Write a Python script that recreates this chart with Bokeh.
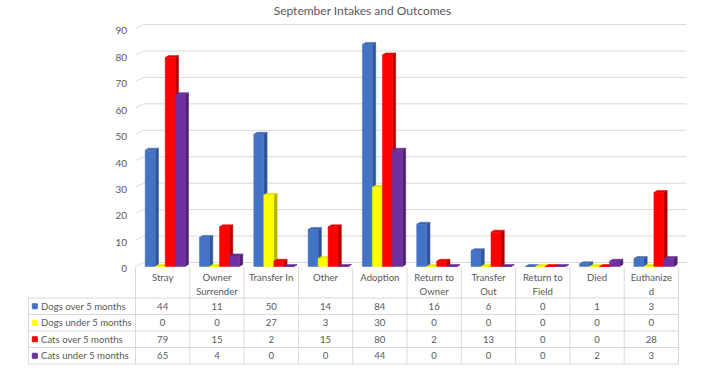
from bokeh.plotting import figure
from bokeh.models import Range1d
from bokeh.core.properties import value
from bokeh.embed import file_html
from bokeh.resources import INLINE

# ---------------- data ----------------
title_text = "September Intakes and Outcomes"
categories = ["Stray", "Owner\nSurrender", "Transfer In", "Other", "Adoption",
              "Return to\nOwner", "Transfer\nOut", "Return to\nField", "Died", "Euthanize\nd"]
series_names = ["Dogs over 5 months", "Dogs under 5 months",
                "Cats over 5 months", "Cats under 5 months"]
dogs_over_5 = [44, 11, 50, 14, 84, 16, 6, 0, 1, 3]
dogs_under_5 = [0, 0, 27, 3, 30, 0, 0, 0, 0, 0]
cats_over_5 = [79, 15, 2, 15, 80, 2, 13, 0, 0, 28]
cats_under_5 = [65, 4, 0, 0, 44, 0, 0, 0, 2, 3]
y_ticks = [0, 10, 20, 30, 40, 50, 60, 70, 80, 90]

series_values = [dogs_over_5, dogs_under_5, cats_over_5, cats_under_5]
front_colors = ["#4472C4", "#FFFF00", "#FF0000", "#7030A0"]
top_colors = ["#3D66B0", "#E6E600", "#E00000", "#642B8F"]
side_colors = ["#2F5597", "#B3B300", "#B00000", "#4E2170"]

TEXT = "#595959"
GRID = "#D9D9D9"
FONT = value("Lato")
FS = "9.6px"

# ---------------- geometry (pixels) ----------------
W, H = 710, 375
PX = 54.3        # pixels per category column
PY = 2.644       # pixels per value unit
OX = 135.0       # canvas x of first column's left edge
OY = 266.0       # canvas y of value 0 (front)


def dx(px):
    return px / PX


def dy(px):
    return px / PY


def cx(canvas_x):
    return (canvas_x - OX) / PX


def cy(canvas_y):
    return (OY - canvas_y) / PY


n = len(categories)

p = figure(width=W, height=H, output_backend="svg", toolbar_location=None,
           x_range=Range1d(cx(0), cx(W)), y_range=Range1d(cy(H), cy(0)),
           x_axis_type=None, y_axis_type=None, min_border=0)
p.outline_line_color = None
p.background_fill_color = "white"
p.border_fill_color = "white"

# ---------------- back wall gridlines (3D) ----------------
DEPTH_X, DEPTH_Y = dx(8), dy(4)
gx, gy = [], []
for t in y_ticks:
    gx.append([0, DEPTH_X, n + DEPTH_X])
    gy.append([t, t + DEPTH_Y, t + DEPTH_Y])
p.multi_line(gx, gy, line_color=GRID, line_width=1)

# y tick labels
p.text(x=[cx(126.5)] * len(y_ticks), y=[t - dy(2.3) for t in y_ticks],
       text=[str(t) for t in y_ticks], text_font=FONT, text_font_size="10px",
       text_color=TEXT, text_align="right", text_baseline="middle")

# ---------------- 3D bars ----------------
BW = dx(10)
BOFF = dx(9.7)
BDX, BDY = dx(3.3), dy(2)
xs, ys, cols = [], [], []
for i in range(n):
    for k, vals in enumerate(series_values):
        v = vals[i]
        x0 = i + BOFF + k * BW
        x1 = x0 + BW
        # side face
        xs.append([x1, x1 + BDX, x1 + BDX, x1])
        ys.append([0, BDY, v + BDY, v])
        cols.append(side_colors[k])
        # top face
        xs.append([x0, x1, x1 + BDX, x0 + BDX])
        ys.append([v, v, v + BDY, v + BDY])
        cols.append(top_colors[k])
        # front face
        xs.append([x0, x1, x1, x0])
        ys.append([0, 0, v, v])
        cols.append(front_colors[k])
p.patches(xs, ys, fill_color=cols, line_color=cols, line_width=0.5)

# ---------------- data table ----------------
row_edges = [cy(297.5), cy(314), cy(330.5), cy(347), cy(363.5)]
header_top = cy(267)
legend_left = cx(28)

# horizontal lines
p.multi_line([[legend_left, n]] * len(row_edges), [[r, r] for r in row_edges],
             line_color=GRID, line_width=1)
# vertical lines
vx = [[j, j] for j in range(n + 1)] + [[legend_left, legend_left]]
vy = [[header_top, row_edges[-1]] for _ in range(n + 1)] + [[row_edges[0], row_edges[-1]]]
p.multi_line(vx, vy, line_color=GRID, line_width=1)

# header labels (one or two lines)
l1x, l1y, l1t, l2x, l2y, l2t = [], [], [], [], [], []
for i, c in enumerate(categories):
    parts = c.split("\n")
    l1x.append(i + 0.5)
    l1y.append(cy(277))
    l1t.append(parts[0])
    if len(parts) > 1:
        l2x.append(i + 0.5)
        l2y.append(cy(290.5))
        l2t.append(parts[1])
p.text(x=l1x + l2x, y=l1y + l2y, text=l1t + l2t, text_font=FONT, text_font_size=FS,
       text_color=TEXT, text_align="center", text_baseline="middle")

# cell values
tx, ty, tt = [], [], []
for r, vals in enumerate(series_values):
    yc = (row_edges[r] + row_edges[r + 1]) / 2
    for i, v in enumerate(vals):
        tx.append(i + 0.5)
        ty.append(yc)
        tt.append(str(v))
p.text(x=tx, y=ty, text=tt, text_font=FONT, text_font_size=FS,
       text_color=TEXT, text_align="center", text_baseline="middle")

# legend keys + names
ly = [(row_edges[r] + row_edges[r + 1]) / 2 for r in range(len(series_names))]
p.scatter(x=[cx(34.3)] * len(ly), y=ly, marker="square", size=5,
          fill_color=front_colors, line_color=front_colors)
p.text(x=[cx(40.5)] * len(ly), y=ly, text=series_names, text_font=FONT,
       text_font_size=FS, text_color=TEXT, text_align="left",
       text_baseline="middle")

# title
p.text(x=[cx(362)], y=[cy(10)], text=[title_text], text_font=FONT,
       text_font_size="12px", text_color=TEXT, text_align="center",
       text_baseline="alphabetic")

open("out.html", "w").write(file_html(p, INLINE))
